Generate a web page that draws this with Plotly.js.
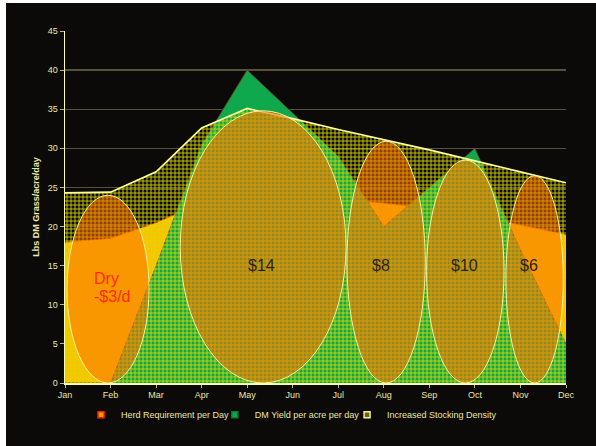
<!DOCTYPE html>
<html>
<head>
<meta charset="utf-8">
<script src="https://cdn.plot.ly/plotly-3.0.1.min.js"></script>
<style>
  html, body { margin: 0; padding: 0; background: #ffffff; width: 596px; height: 446px; overflow: hidden; }
  #chart { position: absolute; left: 6px; top: 3px; width: 590px; height: 443px; }
</style>
</head>
<body>
<div id="chart"></div>
<script>
// ---- data ----
const months = ['Jan', 'Feb', 'Mar', 'Apr', 'May', 'Jun', 'Jul', 'Aug', 'Sep', 'Oct', 'Nov', 'Dec'];
const herdRequirement = [18, 18.5, 20.5, 23, 24, 24, 23.5, 23, 22.3, 21.5, 20.2, 19];
const dmYield = [0, 0, 15, 30.5, 40, 34.5, 29, 20, 25, 30, 17, 5];
const stockingDensity = [24.3, 24.4, 27, 32.6, 35.1, 33.8, 32.4, 31.1, 29.8, 28.4, 27.0, 25.6];

// grazing-period ellipses (centre in month index, half width in months, top value)
const periodLabels = ['Dry<br>-$3/d', '$14', '$8', '$10', '$6'];
const periodCentres = [0.945, 4.35, 7.05, 8.79, 10.31];
const periodHalfWidths = [0.9, 1.82, 0.86, 0.85, 0.63];
const periodTops = [24.0, 34.8, 30.9, 28.5, 26.5];

const traceNames = ['Herd Requirement per Day', 'DM Yield per acre per day', 'Increased Stocking Density'];

const txtColor = '#ece8a4';

const traces = [
  {
    x: months, y: herdRequirement, name: traceNames[0], type: 'scatter', mode: 'lines',
    fill: 'tozeroy', fillcolor: '#ffc000', showlegend: false,
    line: { color: '#f02a00', width: 0.8 }, hoverinfo: 'skip'
  },
  {
    x: months, y: dmYield, name: traceNames[1], type: 'scatter', mode: 'lines',
    fill: 'tozeroy', fillcolor: '#10a84c', showlegend: false,
    line: { color: '#7a3a1a', width: 0.8 }, hoverinfo: 'skip'
  },
  {
    x: months, y: stockingDensity, name: traceNames[2], type: 'scatter', mode: 'lines',
    fill: 'tozeroy', fillcolor: 'rgba(0,0,0,0)', showlegend: false,
    fillpattern: { shape: '+', fgcolor: '#dcd800', bgcolor: 'rgba(0,0,0,0)', size: 4, solidity: 0.38 },
    line: { color: '#ffff99', width: 1.6 }, hoverinfo: 'skip'
  },
  // legend keys (square swatches, as in the reference legend)
  {
    x: [null], y: [null], name: traceNames[0], type: 'scatter', mode: 'markers', legend: 'legend',
    marker: { symbol: 'square', size: 6, color: '#ffa000', line: { color: '#ff2000', width: 1.5 } }
  },
  {
    x: [null], y: [null], name: traceNames[1], type: 'scatter', mode: 'markers', legend: 'legend2',
    marker: { symbol: 'square', size: 6, color: '#10a84c', line: { color: '#0a7a36', width: 1.5 } }
  },
  {
    x: [null], y: [null], name: traceNames[2], type: 'scatter', mode: 'markers', legend: 'legend3',
    marker: { symbol: 'square', size: 6, color: '#6a6410', line: { color: '#f4f0a0', width: 1.5 } }
  }
];

const shapes = periodCentres.map((c, i) => ({
  type: 'circle', xref: 'x', yref: 'y',
  x0: c - periodHalfWidths[i], x1: c + periodHalfWidths[i],
  y0: 0, y1: periodTops[i],
  fillcolor: 'rgba(255,110,0,0.55)',
  line: { color: '#f4f0a0', width: 1 },
  layer: 'above'
}));

const annotations = [
  { x: 0.587, y: 13.4, text: 'Dry', xanchor: 'left', color: '#ff2a10' },
  { x: 0.587, y: 11.1, text: '-$3/d', xanchor: 'left', color: '#ff2a10' },
  { x: 4.31, y: 15.0, text: periodLabels[1], xanchor: 'center', color: '#2b2410' },
  { x: 6.93, y: 15.0, text: periodLabels[2], xanchor: 'center', color: '#2b2410' },
  { x: 8.77, y: 15.0, text: periodLabels[3], xanchor: 'center', color: '#2b2410' },
  { x: 10.18, y: 15.0, text: periodLabels[4], xanchor: 'center', color: '#2b2410' }
].map(a => ({
  x: a.x, y: a.y, xref: 'x', yref: 'y', text: a.text, showarrow: false,
  xanchor: a.xanchor, yanchor: 'middle',
  font: { family: 'Liberation Sans, Arial, sans-serif', size: 16, color: a.color }
}));

function legendAt(xPaper) {
  return {
    orientation: 'h', x: xPaper, xanchor: 'left', y: -0.09, yanchor: 'middle',
    font: { size: 9, color: txtColor }, bgcolor: 'rgba(0,0,0,0)', itemwidth: 30
  };
}

const layout = {
  width: 590, height: 443,
  margin: { l: 59, r: 30, t: 28, b: 63 },
  paper_bgcolor: '#0b0a08', plot_bgcolor: '#0b0a08',
  font: { family: 'Liberation Sans, Arial, sans-serif', size: 9, color: txtColor },
  showlegend: true,
  legend: legendAt(0.032),
  legend2: legendAt(0.299),
  legend3: legendAt(0.563),
  xaxis: {
    type: 'category', range: [0, 11], showgrid: false, zeroline: false,
    showline: true, linecolor: '#ffffa8', linewidth: 1.5,
    ticks: 'outside', ticklen: 3, tickcolor: '#b8b490',
    tickfont: { size: 9, color: txtColor }
  },
  yaxis: {
    range: [0, 45], dtick: 5, tick0: 0, showgrid: true, gridcolor: '#56523e', gridwidth: 1.3,
    zeroline: false, showline: true, linecolor: '#ffffa8', linewidth: 1.5,
    ticks: 'outside', ticklen: 4, tickcolor: '#b8b490',
    tickfont: { size: 9, color: txtColor },
    title: { text: '<b>Lbs DM Grass/acre/day</b>', font: { size: 9, color: txtColor }, standoff: 6 }
  },
  shapes: shapes,
  annotations: annotations
};

Plotly.newPlot('chart', traces, layout, { displayModeBar: false, staticPlot: true });
</script>
</body>
</html>
